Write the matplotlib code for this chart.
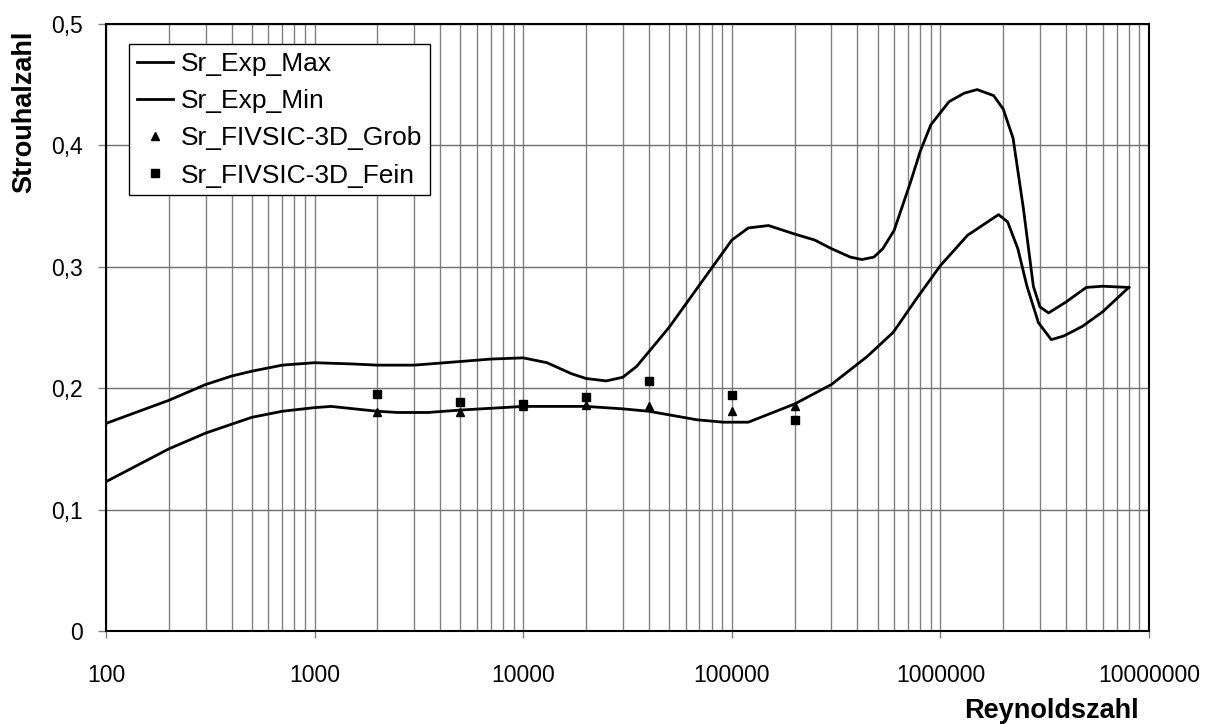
import matplotlib
matplotlib.use("Agg")
import matplotlib.pyplot as plt
from matplotlib.ticker import FixedLocator, LogLocator, NullFormatter

plt.rcParams["font.family"] = ["Liberation Sans", "DejaVu Sans"]

# Sr_Exp_Max (upper envelope of experimental data)
re_max = [100, 200, 300, 400, 500, 700, 1000, 1500, 2000, 3000, 5000, 7000,
          10000, 13000, 17000, 20000, 25000, 30000, 35000, 40000, 50000,
          70000, 100000, 120000, 150000, 200000, 250000, 300000, 370000,
          420000, 480000, 530000, 600000, 720000, 800000, 900000, 1000000,
          1100000, 1300000, 1500000, 1800000, 2000000, 2230000, 2500000,
          2790000, 3000000, 3300000, 4000000, 5000000, 6000000, 8000000]
sr_max = [0.171, 0.190, 0.203, 0.210, 0.214, 0.219, 0.221, 0.220, 0.219,
          0.219, 0.222, 0.224, 0.225, 0.221, 0.212, 0.208, 0.206, 0.209,
          0.218, 0.230, 0.250, 0.285, 0.322, 0.332, 0.334, 0.327, 0.322,
          0.315, 0.308, 0.306, 0.308, 0.315, 0.330, 0.370, 0.395, 0.417,
          0.427, 0.436, 0.443, 0.446, 0.441, 0.430, 0.406, 0.348, 0.284,
          0.267, 0.262, 0.271, 0.283, 0.284, 0.283]

# Sr_Exp_Min (lower envelope)
re_min = [100, 200, 300, 500, 700, 1000, 1200, 2000, 2500, 3500, 5000,
          10000, 20000, 30000, 40000, 68000, 91000, 120000, 200000, 300000,
          445000, 594000, 770000, 1000000, 1350000, 1900000, 2100000,
          2350000, 2600000, 2950000, 3400000, 3900000, 4800000, 6000000,
          8000000]
sr_min = [0.123, 0.150, 0.163, 0.176, 0.181, 0.184, 0.185, 0.181, 0.180,
          0.180, 0.182, 0.185, 0.185, 0.183, 0.181, 0.174, 0.172, 0.172,
          0.187, 0.203, 0.226, 0.246, 0.274, 0.301, 0.326, 0.343, 0.337,
          0.315, 0.284, 0.254, 0.240, 0.243, 0.251, 0.263, 0.283]

# simulation results
re_sim = [2000, 5000, 10000, 20000, 40000, 100000, 200000]
sr_grob = [0.180, 0.180, 0.185, 0.186, 0.185, 0.181, 0.185]
sr_fein = [0.195, 0.189, 0.187, 0.193, 0.206, 0.194, 0.174]

x_ticks = [100, 1000, 10000, 100000, 1000000, 10000000]
x_labels = ["100", "1000", "10000", "100000", "1000000", "10000000"]
y_ticks = [0, 0.1, 0.2, 0.3, 0.4, 0.5]
y_labels = ["0", "0,1", "0,2", "0,3", "0,4", "0,5"]

fig = plt.figure(figsize=(12.16, 7.24), dpi=100)
ax = fig.add_axes([106 / 1216, 93 / 724, 1043 / 1216, 607 / 724])

ax.plot(re_max, sr_max, color="black", lw=2, label="Sr_Exp_Max")
ax.plot(re_min, sr_min, color="black", lw=2, label="Sr_Exp_Min")
ax.plot(re_sim, sr_grob, "^", color="black", ms=6, label="Sr_FIVSIC-3D_Grob")
ax.plot(re_sim, sr_fein, "s", color="black", ms=6, label="Sr_FIVSIC-3D_Fein")

ax.set_xscale("log")
ax.set_xlim(100, 10000000)
ax.set_ylim(0, 0.5)
ax.xaxis.set_major_locator(FixedLocator(x_ticks))
ax.set_xticklabels(x_labels)
ax.xaxis.set_minor_locator(LogLocator(base=10, subs=range(2, 10), numticks=20))
ax.xaxis.set_minor_formatter(NullFormatter())
ax.set_yticks(y_ticks)
ax.set_yticklabels(y_labels)

ax.grid(True, which="both", axis="x", color="#808080", lw=1)
ax.grid(True, which="major", axis="y", color="#707070", lw=1)
ax.set_axisbelow(True)

ax.tick_params(axis="x", which="major", direction="out", length=5, width=1,
               pad=19, labelsize=16.5, color="#808080")
ax.tick_params(axis="x", which="minor", length=0)
ax.tick_params(axis="y", direction="out", length=6, width=1, pad=11,
               labelsize=16.5, color="#808080")
for s in ax.spines.values():
    s.set_linewidth(1.5)
    s.set_color("black")

leg = ax.legend(loc="upper left", bbox_to_anchor=(23 / 1043, 1 - 20 / 607),
                borderaxespad=0, fontsize=19, frameon=True, fancybox=False,
                edgecolor="black", framealpha=1, handlelength=1.35,
                handletextpad=0.3, labelspacing=0.5, borderpad=0.3)
leg.get_frame().set_linewidth(1)

fig.text(24 / 1216, 1 - 112 / 724, "Strouhalzahl", rotation=90,
         ha="center", va="center", fontsize=19.5, fontweight="bold")
fig.text(1051 / 1216, 1 - 711 / 724, "Reynoldszahl",
         ha="center", va="center", fontsize=19.5, fontweight="bold")

fig.savefig("out.png", dpi=100)
